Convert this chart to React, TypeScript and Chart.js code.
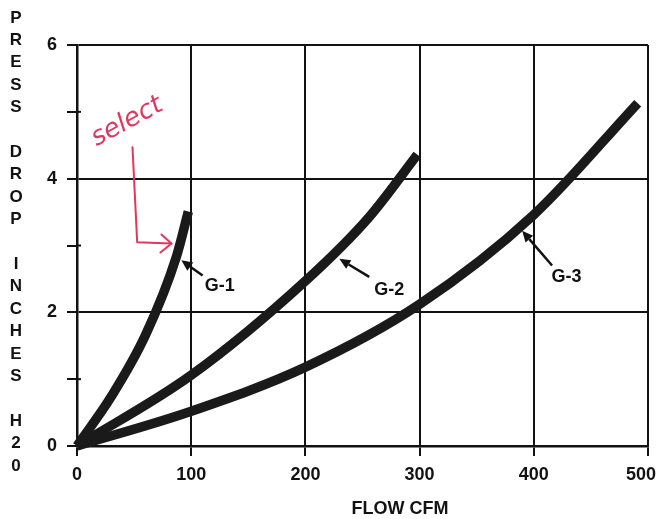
import React, { useEffect, useRef } from 'react';
import { Chart, registerables } from 'chart.js';

Chart.register(...registerables);

// ---- data ----
const FLOW_TICKS = [0, 100, 200, 300, 400, 500];
const DROP_LABELED = [0, 2, 4, 6];
const DROP_MINOR = [1, 3, 5];

const G1_FLOW = [0, 30, 60, 87, 97.5];
const G1_DROP = [0, 0.74, 1.66, 2.83, 3.51];

const G2_FLOW = [0, 100, 200, 256, 298];
const G2_DROP = [0, 1.06, 2.47, 3.43, 4.36];

const G3_FLOW = [0, 100, 200, 300, 400, 491];
const G3_DROP = [0, 0.52, 1.18, 2.12, 3.46, 5.13];

const SERIES_NAMES = ['G-1', 'G-2', 'G-3'];
const Y_TITLE = 'PRESS DROP INCHES H20';
const X_TITLE = 'FLOW CFM';
const NOTE_TEXT = 'select';

// annotation anchors in data coordinates
const LABEL_TIPS = [[91.4, 2.78], [229.7, 2.8], [389.8, 3.22]];
const LABEL_TAILS = [[110, 2.55], [255.9, 2.53], [416, 2.7]];
const LABEL_TEXT_POS = [[111.8, 2.4], [260.3, 2.33], [415.5, 2.53]];
const NOTE_POS = [44, 4.85];
const NOTE_PATH = [[48.6, 4.47], [52.7, 3.05], [82.7, 3.03]];

const INK = '#121212';
const RED = '#e3365e';
const FONT = '"Liberation Sans", Arial, Helvetica, sans-serif';

const toPts = (xs: number[], ys: number[]) => xs.map((x, i) => ({ x, y: ys[i] }));

const decor = {
  id: 'decor',
  afterDatasetsDraw(chart: any) {
    const ctx = chart.ctx as CanvasRenderingContext2D;
    const xs = chart.scales.x;
    const ys = chart.scales.y;
    const px = (p: number[]) => [xs.getPixelForValue(p[0]), ys.getPixelForValue(p[1])];
    ctx.save();
    // minor ticks crossing the y axis
    ctx.strokeStyle = INK;
    ctx.lineWidth = 2;
    DROP_MINOR.forEach((v) => {
      const y = ys.getPixelForValue(v);
      ctx.beginPath();
      ctx.moveTo(xs.left, y);
      ctx.lineTo(xs.left + 4, y);
      ctx.stroke();
    });
    // curve labels with arrows
    ctx.fillStyle = INK;
    ctx.strokeStyle = INK;
    ctx.font = `bold 18px ${FONT}`;
    ctx.textBaseline = 'middle';
    ctx.textAlign = 'left';
    SERIES_NAMES.forEach((name, i) => {
      const [tx, ty] = px(LABEL_TIPS[i]);
      const [sx, sy] = px(LABEL_TAILS[i]);
      const ang = Math.atan2(ty - sy, tx - sx);
      const headLen = 11;
      const hw = 5;
      const bx = tx - headLen * Math.cos(ang);
      const by = ty - headLen * Math.sin(ang);
      ctx.lineWidth = 2.5;
      ctx.beginPath();
      ctx.moveTo(sx, sy);
      ctx.lineTo(bx, by);
      ctx.stroke();
      ctx.beginPath();
      ctx.moveTo(tx, ty);
      ctx.lineTo(bx + hw * Math.sin(ang), by - hw * Math.cos(ang));
      ctx.lineTo(bx - hw * Math.sin(ang), by + hw * Math.cos(ang));
      ctx.closePath();
      ctx.fill();
      const [lx, ly] = px(LABEL_TEXT_POS[i]);
      ctx.fillText(name, lx, ly);
    });
    // handwritten red note
    ctx.strokeStyle = RED;
    ctx.fillStyle = RED;
    ctx.lineWidth = 2;
    ctx.lineCap = 'round';
    ctx.lineJoin = 'round';
    const pts = NOTE_PATH.map(px);
    ctx.beginPath();
    ctx.moveTo(pts[0][0], pts[0][1]);
    for (let k = 1; k < pts.length; k++) ctx.lineTo(pts[k][0], pts[k][1]);
    ctx.stroke();
    const end = pts[pts.length - 1];
    ctx.beginPath();
    ctx.moveTo(end[0] - 10, end[1] - 9);
    ctx.lineTo(end[0], end[1]);
    ctx.lineTo(end[0] - 11, end[1] + 9);
    ctx.stroke();
    const [nx, ny] = px(NOTE_POS);
    ctx.translate(nx, ny);
    ctx.rotate(-0.5);
    ctx.font = `italic 26px "DejaVu Sans", sans-serif`;
    ctx.textAlign = 'center';
    ctx.fillText(NOTE_TEXT, 0, 0);
    ctx.restore();
  },
  afterDraw(chart: any) {
    const ctx = chart.ctx as CanvasRenderingContext2D;
    const xs = chart.scales.x;
    ctx.save();
    ctx.fillStyle = INK;
    ctx.textAlign = 'center';
    ctx.textBaseline = 'middle';
    // stacked y title
    ctx.font = `bold 17px ${FONT}`;
    const chars = Y_TITLE.split('');
    const top = 18;
    const step = 22.4;
    chars.forEach((c, i) => {
      if (c !== ' ') ctx.fillText(c, 16, top + i * step);
    });
    // x tick labels, kept inside the canvas
    ctx.font = `bold 18px ${FONT}`;
    FLOW_TICKS.forEach((v) => {
      const s = String(v);
      const w = ctx.measureText(s).width;
      let x = xs.getPixelForValue(v);
      x = Math.min(x, chart.width - w / 2 - 1);
      ctx.fillText(s, x, xs.top + 29);
    });
    ctx.fillText(X_TITLE, 400, 509);
    ctx.restore();
  },
};

export default function App() {
  const ref = useRef<HTMLCanvasElement | null>(null);
  useEffect(() => {
    if (!ref.current) return;
    const lineStyle = {
      borderColor: '#1a1a1a',
      borderWidth: 9.5,
      pointRadius: 0,
      showLine: true,
      fill: false,
      cubicInterpolationMode: 'monotone' as const,
      borderCapStyle: 'butt' as const,
      borderJoinStyle: 'round' as const,
      clip: false as any,
    };
    const chart = new Chart(ref.current, {
      type: 'scatter',
      data: {
        datasets: [
          { label: SERIES_NAMES[0], data: toPts(G1_FLOW, G1_DROP), ...lineStyle },
          { label: SERIES_NAMES[1], data: toPts(G2_FLOW, G2_DROP), ...lineStyle },
          { label: SERIES_NAMES[2], data: toPts(G3_FLOW, G3_DROP), ...lineStyle },
        ],
      },
      options: {
        animation: false,
        responsive: false,
        maintainAspectRatio: false,
        layout: { padding: { left: 0, right: 9, top: 45, bottom: 0 } },
        plugins: { legend: { display: false }, tooltip: { enabled: false }, title: { display: false } },
        scales: {
          x: {
            type: 'linear',
            min: FLOW_TICKS[0],
            max: FLOW_TICKS[FLOW_TICKS.length - 1],
            afterFit: (s: any) => { s.height = 73; s.paddingLeft = 0; s.paddingRight = 0; },
            afterBuildTicks: (s: any) => { s.ticks = FLOW_TICKS.map((v) => ({ value: v })); },
            ticks: { display: false },
            grid: { color: INK, lineWidth: 2, tickLength: 10, tickColor: INK, tickWidth: 2 },
            border: { color: INK, width: 2.5 },
          },
          y: {
            type: 'linear',
            min: 0,
            max: 6,
            afterFit: (s: any) => { s.width = 77; },
            ticks: {
              stepSize: 1,
              color: INK,
              font: { family: FONT, size: 18, weight: 'bold' },
              padding: 10,
              autoSkip: false,
              callback: (v: any) => (DROP_LABELED.includes(Number(v)) ? String(v) : ''),
            },
            grid: {
              color: (c: any) => (c.tick && DROP_LABELED.includes(c.tick.value) ? INK : 'rgba(0,0,0,0)'),
              lineWidth: 2,
              tickLength: 10,
              tickColor: INK,
              tickWidth: 2,
            },
            border: { color: INK, width: 2.5 },
          },
        },
      },
      plugins: [decor],
    });
    return () => chart.destroy();
  }, []);
  return (
    <div style={{ position: 'fixed', left: 0, top: 0, width: 657, height: 519, background: '#fff' }}>
      <canvas ref={ref} width={657} height={519} style={{ width: 657, height: 519, display: 'block' }} />
    </div>
  );
}
